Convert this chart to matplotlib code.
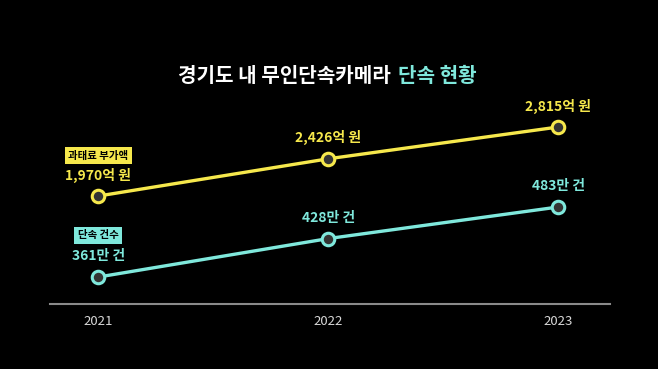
import matplotlib.pyplot as plt

plt.rcParams['font.family'] = ['Noto Sans CJK KR', 'DejaVu Sans']

years = [2021, 2022, 2023]
fine_amount = [1970, 2426, 2815]      # 억 원
fine_labels = ["1,970억 원", "2,426억 원", "2,815억 원"]
cases = [361, 428, 483]               # 만 건
case_labels = ["361만 건", "428만 건", "483만 건"]

yellow = "#f6e84c"
cyan = "#7fe8dc"
bg = "#000000"

W, H = 658, 369
fig = plt.figure(figsize=(W / 100, H / 100), dpi=100, facecolor=bg)

# axes area in pixels: x 50..610, y 100..304 (from top)
ax = fig.add_axes([50 / W, (H - 304) / H, 560 / W, 204 / H])
ax2 = ax.twinx()
for a in (ax, ax2):
    a.set_facecolor("none")
    for s in a.spines.values():
        s.set_visible(False)
    a.tick_params(left=False, right=False, labelleft=False, labelright=False)
ax.set_facecolor(bg)

ax.set_xlim(2020.79, 2023.226)
ax.set_ylim(648, 3146)
ax2.set_ylim(314, 669.5)

ax.spines['bottom'].set_visible(True)
ax.spines['bottom'].set_color("#8a8a8a")
ax.spines['bottom'].set_linewidth(1.5)
ax.set_xticks(years)
ax.set_xticklabels([str(y) for y in years], color="#d8d8d8", fontsize=9.5)
ax.tick_params(axis='x', length=0, pad=8)

ax.plot(years, fine_amount, color=yellow, lw=2.4, marker='o', ms=9,
        mfc="#333333", mec=yellow, mew=2.2, zorder=3)
ax2.plot(years, cases, color=cyan, lw=2.4, marker='o', ms=9,
         mfc="#333333", mec=cyan, mew=2.2, zorder=3)

for x, y, t in zip(years, fine_amount, fine_labels):
    ax.annotate(t, (x, y), xytext=(0, 15), textcoords='offset points',
                ha='center', va='center', color=yellow, fontsize=10, fontweight='bold')
for x, y, t in zip(years, cases, case_labels):
    ax2.annotate(t, (x, y), xytext=(0, 15), textcoords='offset points',
                 ha='center', va='center', color=cyan, fontsize=10, fontweight='bold')

ax.annotate("과태료 부가액", (years[0], fine_amount[0]), xytext=(0, 29),
            textcoords='offset points', ha='center', va='center', color="black",
            fontsize=7.5, fontweight='bold',
            bbox=dict(boxstyle='square,pad=0.35', fc=yellow, ec='none'))
ax2.annotate("단속 건수", (years[0], cases[0]), xytext=(0, 30),
             textcoords='offset points', ha='center', va='center', color="black",
             fontsize=7.5, fontweight='bold',
             bbox=dict(boxstyle='square,pad=0.35', fc=cyan, ec='none'))

ty = 1 - 75 / H
fig.text(391 / W, ty, "경기도 내 무인단속카메라", ha='right', va='center',
         color="white", fontsize=14.5, fontweight='bold')
fig.text(398 / W, ty, "단속 현황", ha='left', va='center',
         color=cyan, fontsize=14.5, fontweight='bold')

fig.savefig("out.png", dpi=100, facecolor=bg)
